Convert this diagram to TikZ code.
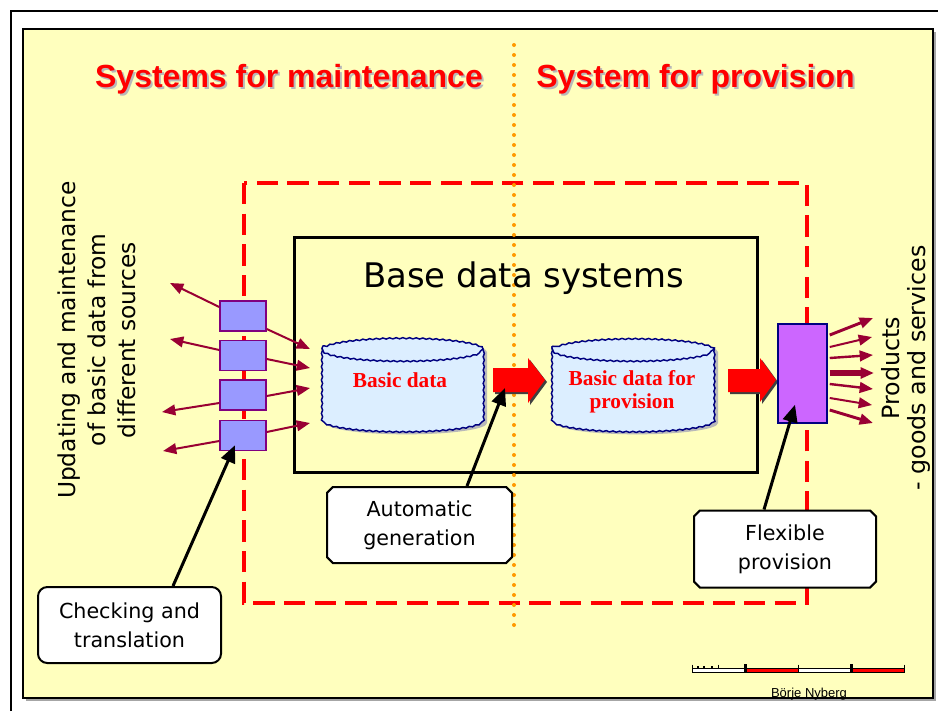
\documentclass[tikz,border=0pt]{standalone}
\usepackage{fontspec}
\setmainfont{DejaVu Sans}
\newfontfamily\titlefont{Liberation Sans}
\newfontfamily\cylfont{Liberation Serif}
\newfontfamily\signfont{Liberation Sans}
\usetikzlibrary{shapes.misc,decorations.pathmorphing,calc,arrows.meta}
\definecolor{bgyellow}{RGB}{255,255,190}
\definecolor{darkred}{RGB}{153,0,51}
\definecolor{boxblue}{RGB}{153,153,255}
\definecolor{boxpurple}{RGB}{128,0,128}
\definecolor{cylblue}{RGB}{220,238,255}
\definecolor{navyc}{RGB}{0,0,128}
\definecolor{prodpurple}{RGB}{204,102,255}
\definecolor{dotorange}{RGB}{255,153,0}
\begin{document}
\begin{tikzpicture}[x=0.75pt,y=-0.75pt,
  smallbox/.style={draw=boxpurple, fill=boxblue, line width=1.1pt, minimum width=34.5pt, minimum height=22.5pt, inner sep=0pt},
  prodbox/.style={draw=navyc, fill=prodpurple, line width=1.1pt, minimum width=36.75pt, minimum height=74.25pt, inner sep=0pt},
  darr/.style={draw=darkred, line width=1.5pt, -{Triangle[length=10pt,width=8pt]}},
  callarr/.style={draw=black, line width=2.25pt, -{Triangle[length=13pt,width=11pt]}},
  callout/.style={draw, line width=1.5pt, fill=white, align=center, inner sep=0pt,
     font=\fontsize{15.5}{21.5}\selectfont},
  chamf/.style={chamfered rectangle, chamfered rectangle xsep=2.2pt, chamfered rectangle ysep=2.2pt},
  titletext/.style={font=\titlefont\bfseries\fontsize{24}{28}\selectfont, anchor=base, inner sep=0pt},
  cyltext/.style={font=\cylfont\bfseries\fontsize{16}{17.25}\selectfont, text=red, align=center, inner sep=0pt},
  cylline/.style={draw=navyc, line width=1.1pt, decorate, decoration={snake, segment length=5pt, amplitude=0.45pt}},
  sidetext/.style={rotate=90, align=center, inner sep=0pt}
]
\useasboundingbox (0,0) rectangle (938,711);
\fill[white] (0,0) rectangle (938,711);
\draw[line width=1.1pt] (11,711) -- (11,11) -- (938,11);
\fill[gray!70] (26,32) rectangle (936,701);
\draw[line width=1.5pt, fill=bgyellow] (23,29) rectangle (933,698);

% titles
\node[titletext, text=gray!55] at (291,89) {Systems for maintenance};
\node[titletext, text=red] (tmaint) at (289,87) {Systems for maintenance};
\node[titletext, text=gray!55] at (697.5,89) {System for provision};
\node[titletext, text=red] (tprov) at (695.5,87) {System for provision};

% frames
\draw[red, line width=3pt, dash pattern=on 16pt off 7pt] (244,183) rectangle (807,603);
\draw[line width=2.25pt] (294,237) rectangle (757,472);
\draw[dotorange, line width=3pt, line cap=round, dash pattern=on 0pt off 7.5pt] (514,45) -- (514,632);
\node[font=\fontsize{25.4}{30}\selectfont, anchor=base, inner sep=0pt] (bds) at (523.5,287) {Base data systems};

% cylinder 1
\fill[gray!55] (326,352) -- (326,423) arc[start angle=180,end angle=360,x radius=60.375pt,y radius=8.5pt] -- (487,352) arc[start angle=0,end angle=180,x radius=60.375pt,y radius=8.5pt] -- cycle;
\path[cylline, fill=cylblue] (322,348) -- (322,419) arc[start angle=180,end angle=360,x radius=60.375pt,y radius=8.5pt] -- (483,348) arc[start angle=0,end angle=180,x radius=60.375pt,y radius=8.5pt] -- cycle;
\path[cylline] (322,348) arc[start angle=180,end angle=360,x radius=60.375pt,y radius=8.5pt];
\node[cyltext] (cyl1) at (400,380) {Basic data};

% cylinder 2
\fill[gray!55] (556,352) -- (556,423) arc[start angle=180,end angle=360,x radius=60.75pt,y radius=8.5pt] -- (718,352) arc[start angle=0,end angle=180,x radius=60.75pt,y radius=8.5pt] -- cycle;
\path[cylline, fill=cylblue] (552,348) -- (552,419) arc[start angle=180,end angle=360,x radius=60.75pt,y radius=8.5pt] -- (714,348) arc[start angle=0,end angle=180,x radius=60.75pt,y radius=8.5pt] -- cycle;
\path[cylline] (552,348) arc[start angle=180,end angle=360,x radius=60.75pt,y radius=8.5pt];
\node[cyltext] (cyl2) at (632,391.5) {Basic data for\\provision};

% red block arrows
\fill[black!75] (495,370) -- (530,370) -- (530,360) -- (547,382) -- (530,405) -- (530,394) -- (495,394) -- cycle;
\fill[red] (493,368) -- (528,368) -- (528,358) -- (545,380) -- (528,403) -- (528,392) -- (493,392) -- cycle;
\coordinate (ra1) at (519,380);
\fill[black!75] (730,371) -- (762,371) -- (762,360) -- (778,382) -- (762,404) -- (762,394) -- (730,394) -- cycle;
\fill[red] (728,369) -- (760,369) -- (760,358) -- (776,380) -- (760,402) -- (760,392) -- (728,392) -- cycle;
\coordinate (ra2) at (752,380);

% small boxes
\node[smallbox] (b1) at (243,316) {};
\node[smallbox] (b2) at (243,355.5) {};
\node[smallbox] (b3) at (243,395) {};
\node[smallbox] (b4) at (243,435.5) {};
\coordinate (l1) at (170,283);
\coordinate (r1) at (310,349);
\coordinate (l2) at (170,339);
\coordinate (r2) at (310,368);
\coordinate (l3) at (162,412);
\coordinate (r3) at (310,388);
\coordinate (l4) at (163,451);
\coordinate (r4) at (310,423);
\draw[darr] ($(b1.west)+(0,-9)$) -- (l1);
\draw[darr] ($(b1.east)+(0,13)$) -- (r1);
\draw[darr] ($(b2.west)+(0,-5.5)$) -- (l2);
\draw[darr] ($(b2.east)+(0,3.5)$) -- (r2);
\draw[darr] ($(b3.west)+(0,8)$) -- (l3);
\draw[darr] ($(b3.east)+(0,1)$) -- (r3);
\draw[darr] ($(b4.west)+(0,5.5)$) -- (l4);
\draw[darr] ($(b4.east)+(0,-3.5)$) -- (r4);

% product box
\node[prodbox] (prod) at (802.5,373.5) {};
\coordinate (p1) at (873,318);
\coordinate (p2) at (872,337);
\coordinate (p3) at (873,355);
\coordinate (p4) at (874,373);
\coordinate (p5) at (873,389);
\coordinate (p6) at (872,405);
\coordinate (p7) at (873,423);
\draw[darr, line width=2.2pt] ($(prod.east)+(2,-38.5)$) -- (p1);
\draw[darr] ($(prod.east)+(2,-26.5)$) -- (p2);
\draw[darr, line width=1.8pt] ($(prod.east)+(2,-15.5)$) -- (p3);
\draw[darr, line width=3.8pt] ($(prod.east)+(2,-0.5)$) -- (p4);
\draw[darr, line width=1.8pt] ($(prod.east)+(2,10.5)$) -- (p5);
\draw[darr] ($(prod.east)+(2,24.5)$) -- (p6);
\draw[darr, line width=2.2pt] ($(prod.east)+(2,36.5)$) -- (p7);

% rotated texts
\node[sidetext, font=\fontsize{17.5}{22.5}\selectfont] (upd) at (97,340) {Updating and maintenance\\of basic data from\\different sources};
\node[sidetext, font=\fontsize{17.8}{19}\selectfont] (prods) at (906,368) {Products\\- goods and services};

% callouts
\node[callout, rounded corners=7pt, minimum width=137.25pt, minimum height=57pt] (chk) at (129.5,625) {Checking and\\translation};
\node[callout, chamf, minimum width=138.75pt, minimum height=57pt] (auto) at (419.5,525) {Automatic\\generation};
\node[callout, chamf, minimum width=136.5pt, minimum height=57.75pt] (flex) at (785,549) {Flexible\\provision};
\draw[callarr] ($(chk.north)+(43.5,0)$) -- ($(b4.south)+(-8,-6)$);
\draw[callarr] ($(auto.north)+(47.5,0)$) -- ($(ra1)+(-14,8)$);
\draw[callarr] ($(flex.north)+(-21,0)$) -- ($(prod.south)+(-7.5,-19)$);

% scale bar
\draw[line width=0.6pt, fill=white] (692,668) rectangle (745,672);
\draw[line width=0.6pt, fill=red] (745,668) rectangle (798,672);
\draw[line width=0.6pt, fill=white] (798,668) rectangle (851,672);
\draw[line width=0.6pt, fill=red] (851,668) rectangle (904,672);
\foreach \xx in {692,718,798,904} \draw[line width=0.6pt] (\xx,664.5) -- (\xx,668);
\fill (744,664) rectangle (747,672);
\fill (850,664) rectangle (853,672);
\foreach \xx in {697,703,711} \fill (\xx,665.5) rectangle (\xx+2,667.5);
\node[font=\signfont\fontsize{9.75}{11}\selectfont, anchor=base, inner sep=0pt] (sign) at (809,697) {Börje Nyberg};
\end{tikzpicture}
\end{document}
